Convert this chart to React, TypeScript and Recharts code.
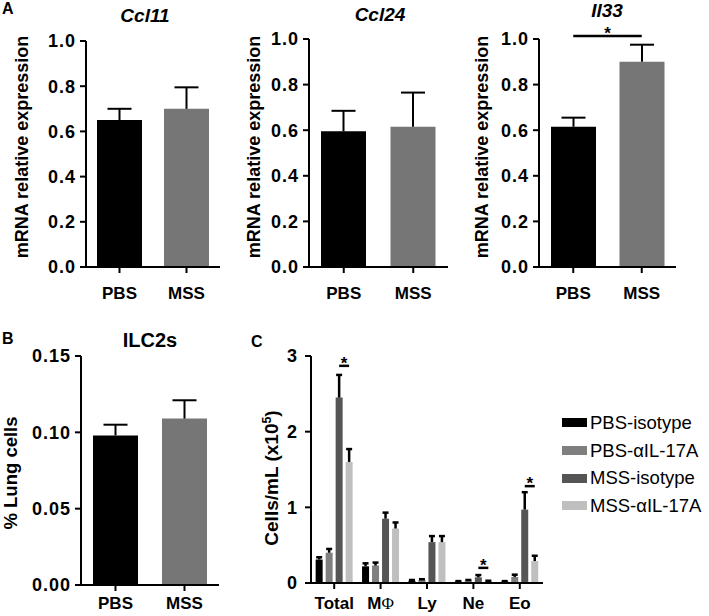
import React from 'react';
import { BarChart, Bar, XAxis, YAxis, ErrorBar, ReferenceLine, LabelList, Legend, Cell } from 'recharts';

const FONT = '"Liberation Sans", Arial, sans-serif';

// panel A / B groups
const groupsA = ['PBS', 'MSS'];
const ccl11Mean = [0.65, 0.7];
const ccl11Sem = [0.05, 0.095];
const ccl24Mean = [0.595, 0.615];
const ccl24Sem = [0.09, 0.15];
const il33Mean = [0.615, 0.9];
const il33Sem = [0.04, 0.075];
const ilc2Mean = [0.098, 0.109];
const ilc2Sem = [0.007, 0.012];
const ticksA = [0, 0.2, 0.4, 0.6, 0.8, 1.0];
const ticksB = [0, 0.05, 0.1, 0.15];

// panel C
const cellTypes = ['Total', 'MΦ', 'Ly', 'Ne', 'Eo'];
const seriesNames = ['PBS-isotype', 'PBS-αIL-17A', 'MSS-isotype', 'MSS-αIL-17A'];
const pbsIsoMean = [0.31, 0.22, 0.03, 0.02, 0.02];
const pbsIsoSem = [0.03, 0.04, 0.01, 0.005, 0.005];
const pbsAntiMean = [0.4, 0.23, 0.04, 0.035, 0.08];
const pbsAntiSem = [0.05, 0.04, 0.01, 0.005, 0.03];
const mssIsoMean = [2.45, 0.85, 0.54, 0.075, 0.97];
const mssIsoSem = [0.3, 0.08, 0.08, 0.03, 0.23];
const mssAntiMean = [1.6, 0.72, 0.54, 0.025, 0.29];
const mssAntiSem = [0.17, 0.08, 0.08, 0.005, 0.07];
const sigLevel = [2.87, null, null, 0.2, 1.28];
const ticksC = [0, 1, 2, 3];

const colorsA = ['#000000', '#767676'];
const colorsC = ['#000000', '#7f7f7f', '#555555', '#bfbfbf'];

const axisStyle = { stroke: '#000', strokeWidth: 2 };
const tickFont = { fill: '#000', fontSize: 18, fontWeight: 'bold', fontFamily: FONT, letterSpacing: 1 };

function TwoBarPanel(p: any) {
  const L = p.axisX - 70;
  const T = p.plotTop - 30;
  const W = p.plotRight - L + 20;
  const H = p.plotBottom - T + 40;
  const data = groupsA.map((g, i) => ({ group: g, mean: p.means[i], err: [0, p.sems[i]] }));
  return (
    <div style={{ position: 'absolute', left: L, top: T }}>
      <BarChart width={W} height={H} data={data} margin={{ top: 30, right: 20, left: 0, bottom: 0 }}>
        <XAxis
          dataKey="group"
          height={40}
          axisLine={axisStyle}
          tickLine={axisStyle}
          tickSize={6}
          tickMargin={p.xTickMargin}
          tick={{ ...tickFont, fontSize: 17, letterSpacing: 0 }}
        />
        <YAxis
          width={70}
          domain={p.domain}
          ticks={p.ticks}
          interval={0}
          tickFormatter={(v: number) => v.toFixed(p.digits)}
          axisLine={axisStyle}
          tickLine={axisStyle}
          tickSize={6}
          tickMargin={4}
          tick={tickFont}
        />
        <Bar dataKey="mean" barSize={45} isAnimationActive={false}>
          {data.map((d, i) => (
            <Cell key={d.group} fill={colorsA[i]} />
          ))}
          <ErrorBar dataKey="err" width={12} stroke="#000" strokeWidth={2} isAnimationActive={false} />
        </Bar>
        {p.sig != null && (
          <ReferenceLine
            segment={[{ x: 'PBS', y: p.sig }, { x: 'MSS', y: p.sig }]}
            stroke="#000"
            strokeWidth={2.5}
            ifOverflow="visible"
            label={{
              content: (lp: any) => {
                const vb = lp.viewBox || {};
                return (
                  <text x={vb.x + (vb.width || 0) / 2} y={vb.y + 3} textAnchor="middle" fontSize={17} fontWeight="bold" fontFamily={FONT}>
                    *
                  </text>
                );
              },
            }}
          />
        )}
      </BarChart>
    </div>
  );
}

const SigMark = (props: any) => {
  const { value, index } = props;
  if (value == null) return null;
  const vb = props.viewBox && props.viewBox.width != null ? props.viewBox : props;
  const { x, y, width, height } = vb;
  const base = y + height;
  const yy = base - (height * value) / mssIsoMean[index];
  const x1 = x + width / 2;
  const x2 = x1 + width + 3;
  return (
    <g>
      <line x1={x1} x2={x2} y1={yy} y2={yy} stroke="#000" strokeWidth={2.5} />
      <text x={(x1 + x2) / 2} y={yy + 3} textAnchor="middle" fontSize={17} fontWeight="bold" fontFamily={FONT}>
        *
      </text>
    </g>
  );
};

const CellTick = (props: any) => {
  const { x, y, payload } = props;
  const v = payload.value;
  return (
    <text x={x} y={y} dy={12} textAnchor="middle" fill="#000" fontSize={17} fontWeight="bold" fontFamily={FONT}>
      {v === 'MΦ' ? (
        <>
          <tspan>M</tspan>
          <tspan fontFamily='"Liberation Serif", serif' fontWeight="normal">Φ</tspan>
        </>
      ) : (
        v
      )}
    </text>
  );
};

const renderLegend = (props: any) => {
  const items = [...(props.payload || [])].sort(
    (a: any, b: any) => seriesNames.indexOf(a.value) - seriesNames.indexOf(b.value)
  );
  return (
    <div style={{ fontFamily: FONT, fontSize: 18.5, color: '#000' }}>
      {items.map((e: any) => (
        <div key={e.value} style={{ display: 'flex', alignItems: 'center', height: 27.7, whiteSpace: 'nowrap' }}>
          <span style={{ display: 'inline-block', width: 25, height: 9, background: e.color, marginRight: 3 }} />
          <span>{e.value}</span>
        </div>
      ))}
    </div>
  );
};

function CellPanel() {
  const L = 251;
  const T = 330;
  const data = cellTypes.map((c, i) => ({
    type: c,
    pbsIso: pbsIsoMean[i],
    pbsIsoErr: [0, pbsIsoSem[i]],
    pbsAnti: pbsAntiMean[i],
    pbsAntiErr: [0, pbsAntiSem[i]],
    mssIso: mssIsoMean[i],
    mssIsoErr: [0, mssIsoSem[i]],
    mssAnti: mssAntiMean[i],
    mssAntiErr: [0, mssAntiSem[i]],
    sig: sigLevel[i],
  }));
  const keys = ['pbsIso', 'pbsAnti', 'mssIso', 'mssAnti'];
  return (
    <div style={{ position: 'absolute', left: L, top: T }}>
      <BarChart
        width={709 - L}
        height={616 - T}
        data={data}
        margin={{ top: 26, right: 166, left: 0, bottom: 0 }}
        barCategoryGap="10%"
        barGap={3}
      >
        <XAxis dataKey="type" height={33} axisLine={axisStyle} tickLine={axisStyle} tickSize={6} tickMargin={8} tick={<CellTick />} />
        <YAxis
          width={60}
          domain={[0, 3]}
          ticks={ticksC}
          interval={0}
          axisLine={axisStyle}
          tickLine={axisStyle}
          tickSize={6}
          tickMargin={7}
          tick={tickFont}
        />
        {keys.map((k, i) => (
          <Bar key={k} dataKey={k} name={seriesNames[i]} fill={colorsC[i]} isAnimationActive={false}>
            <ErrorBar dataKey={k + 'Err'} width={3} stroke="#000" strokeWidth={2.5} isAnimationActive={false} />
            {k === 'mssIso' && <LabelList dataKey="sig" content={SigMark} />}
          </Bar>
        ))}
        <Legend
          layout="vertical"
          align="center"
          verticalAlign="middle"
          content={renderLegend}
          wrapperStyle={{ left: 311, top: 79, width: 150 }}
        />
      </BarChart>
    </div>
  );
}

const textAbs = (x: number, y: number, extra: any = {}): any => ({
  position: 'absolute',
  left: x,
  top: y,
  transform: 'translate(-50%, -50%)',
  whiteSpace: 'nowrap',
  fontFamily: FONT,
  fontWeight: 'bold',
  color: '#000',
  lineHeight: 1,
  ...extra,
});

const yLab = (x: number, y: number, size: number): any =>
  textAbs(x, y, { transform: 'translate(-50%, -50%) rotate(-90deg)', fontSize: size });

export default function App() {
  return (
    <div style={{ position: 'absolute', left: 0, top: 0, width: 709, height: 616, overflow: 'hidden', background: '#fff' }}>
      <style>{'.recharts-errorBar line:nth-of-type(3){display:none}'}</style>

      <div style={{ position: 'absolute', left: 2, top: 0, fontFamily: FONT, fontWeight: 'bold', fontSize: 16 }}>A</div>
      <div style={{ position: 'absolute', left: 2, top: 330, fontFamily: FONT, fontWeight: 'bold', fontSize: 16 }}>B</div>
      <div style={{ position: 'absolute', left: 251, top: 333, fontFamily: FONT, fontWeight: 'bold', fontSize: 16 }}>C</div>

      <div style={textAbs(145, 15, { fontSize: 19, fontStyle: 'italic' })}>Ccl11</div>
      <div style={textAbs(380, 14, { fontSize: 19, fontStyle: 'italic' })}>Ccl24</div>
      <div style={textAbs(607, 10, { fontSize: 19, fontStyle: 'italic' })}>Il33</div>
      <div style={textAbs(150, 340, { fontSize: 20 })}>ILC2s</div>

      <div style={yLab(22, 147, 18)}>mRNA relative expression</div>
      <div style={yLab(254, 147, 18)}>mRNA relative expression</div>
      <div style={yLab(482, 147, 18)}>mRNA relative expression</div>
      <div style={yLab(11, 473, 18.5)}>% Lung cells</div>
      <div style={yLab(271, 478, 19)}>
        Cells/mL (x10<sup style={{ fontSize: '0.65em' }}>5</sup>)
      </div>

      <TwoBarPanel axisX={86} plotTop={41} plotRight={220} plotBottom={267} means={ccl11Mean} sems={ccl11Sem} domain={[0, 1]} ticks={ticksA} digits={1} xTickMargin={14} />
      <TwoBarPanel axisX={309} plotTop={39} plotRight={448} plotBottom={267} means={ccl24Mean} sems={ccl24Sem} domain={[0, 1]} ticks={ticksA} digits={1} xTickMargin={14} />
      <TwoBarPanel axisX={539} plotTop={39} plotRight={676} plotBottom={267} means={il33Mean} sems={il33Sem} domain={[0, 1]} ticks={ticksA} digits={1} xTickMargin={14} sig={1.013} />
      <TwoBarPanel axisX={81} plotTop={356} plotRight={219} plotBottom={585} means={ilc2Mean} sems={ilc2Sem} domain={[0, 0.15]} ticks={ticksB} digits={2} xTickMargin={6} />
      <CellPanel />
    </div>
  );
}
